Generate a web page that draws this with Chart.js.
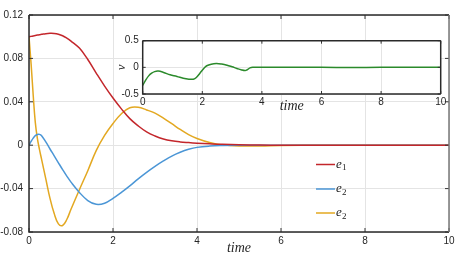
<!DOCTYPE html>
<html>
<head>
<meta charset="utf-8">
<script src="https://cdn.jsdelivr.net/npm/chart.js@4"></script>
<style>
  html, body { margin: 0; padding: 0; background: #fff; }
  #wrap { position: relative; width: 462px; height: 259px; }
  #main { position: absolute; left: 0; top: 0; }
  #inset { position: absolute; left: 100px; top: 30px; }
</style>
</head>
<body>
<div id="wrap">
  <canvas id="main" width="462" height="259"></canvas>
  <canvas id="inset" width="350" height="85"></canvas>
</div>
<script>
// main plot data
const time = [0, 0.05, 0.1, 0.15, 0.2, 0.25, 0.3, 0.4, 0.5, 0.6, 0.7, 0.8, 0.9, 1.0, 1.2, 1.4, 1.6, 1.8, 2.0, 2.2, 2.4, 2.6, 2.8, 3.0, 3.2, 3.4, 3.6, 3.8, 4.0, 4.3, 4.6, 5.0, 5.5, 6, 7, 8, 10];
const e1 = [0.0999, 0.1003, 0.1007, 0.1011, 0.1015, 0.1019, 0.1022, 0.1028, 0.1031, 0.103, 0.1023, 0.1009, 0.0987, 0.096, 0.0895, 0.079, 0.0665, 0.0545, 0.0435, 0.0335, 0.0245, 0.0178, 0.0123, 0.0085, 0.0057, 0.004, 0.003, 0.0024, 0.0019, 0.0013, 0.0008, 0.0004, 0.0001, 0, 0, 0, 0];
const e2 = [0, 0.0035, 0.0065, 0.0088, 0.0099, 0.01, 0.0088, 0.003, -0.0035, -0.0098, -0.0162, -0.0225, -0.0285, -0.034, -0.0435, -0.051, -0.0545, -0.0535, -0.049, -0.0435, -0.0375, -0.031, -0.025, -0.0195, -0.0145, -0.01, -0.0065, -0.0038, -0.002, -0.0008, -0.0003, 0, 0, 0, 0, 0, 0];
const e2b = [0.1, 0.075, 0.046, 0.021, 0.006, -0.004, -0.013, -0.031, -0.049, -0.063, -0.0725, -0.074, -0.0685, -0.059, -0.041, -0.0235, -0.005, 0.009, 0.02, 0.029, 0.0345, 0.035, 0.0325, 0.0295, 0.025, 0.0198, 0.0145, 0.0098, 0.0062, 0.0025, 0.0003, -0.0007, -0.0007, -0.0003, 0, 0, 0];

// inset data
const vTime = [0, 0.1, 0.2, 0.3, 0.4, 0.52, 0.7, 0.92, 1.15, 1.36, 1.55, 1.7, 1.8, 1.92, 2.05, 2.15, 2.3, 2.47, 2.65, 2.83, 3.0, 3.16, 3.3, 3.44, 3.52, 3.6, 3.7, 4, 5, 6, 7, 8, 10];
const v = [-0.34, -0.24, -0.16, -0.11, -0.08, -0.07, -0.095, -0.14, -0.17, -0.205, -0.222, -0.222, -0.19, -0.11, -0.02, 0.03, 0.06, 0.072, 0.062, 0.04, 0.01, -0.02, -0.045, -0.06, -0.04, -0.01, 0, 0.004, 0.002, 0, -0.002, 0, 0];

const xTicks = [0, 2, 4, 6, 8, 10];
const yTicks = [-0.08, -0.04, 0, 0.04, 0.08, 0.12];
const yTickLabels = ['-0.08', '-0.04', '0', '0.04', '0.08', '0.12'];
const vTicks = [-0.5, 0, 0.5];
const vTickLabels = ['-0.5', '0', '0.5'];
const legendSubs = ['1', '2', '2'];

const red = '#c3262b';
const blue = '#4b96d6';
const yellow = '#e3a821';
const green = '#2b8a2b';

const tickFont = { family: 'Liberation Sans, Arial, sans-serif', size: 10 };
const serifItalic = size => ({ family: 'Liberation Serif, Times New Roman, serif', style: 'italic', size: size });

function pts(xs, ys) {
  return xs.map((x, i) => ({ x: x, y: ys[i] }));
}

// white plot background, box frame, inward tick marks
const framePlugin = {
  id: 'frame',
  beforeDraw(chart, args, opts) {
    if (!opts.fill) return;
    const a = chart.chartArea;
    const ctx = chart.ctx;
    ctx.save();
    ctx.fillStyle = '#fff';
    ctx.fillRect(a.left, a.top, a.right - a.left, a.bottom - a.top);
    ctx.restore();
  },
  afterDraw(chart, args, opts) {
    const a = chart.chartArea;
    const ctx = chart.ctx;
    const xs = chart.scales.x, ys = chart.scales.y;
    ctx.save();
    ctx.strokeStyle = '#333';
    ctx.lineWidth = 1;
    const tl = opts.tick || 4;
    ctx.beginPath();
    xs.ticks.forEach(t => {
      const px = xs.getPixelForValue(t.value);
      ctx.moveTo(px, a.bottom); ctx.lineTo(px, a.bottom - tl);
      ctx.moveTo(px, a.top); ctx.lineTo(px, a.top + tl);
    });
    ys.ticks.forEach(t => {
      const py = ys.getPixelForValue(t.value);
      ctx.moveTo(a.left, py); ctx.lineTo(a.left + tl, py);
      ctx.moveTo(a.right, py); ctx.lineTo(a.right - tl, py);
    });
    ctx.stroke();
    ctx.lineWidth = 1.5;
    ctx.strokeStyle = '#2a2a2a';
    ctx.beginPath();
    ctx.moveTo(a.left, a.top); ctx.lineTo(a.left, a.bottom); ctx.lineTo(a.right, a.bottom);
    ctx.moveTo(a.left, a.top); ctx.lineTo(a.right, a.top);
    ctx.stroke();
    ctx.strokeStyle = opts.rightColor || '#2a2a2a';
    ctx.beginPath();
    ctx.moveTo(a.right, a.top); ctx.lineTo(a.right, a.bottom);
    ctx.stroke();
    ctx.restore();
  }
};

// in-plot legend: short line + italic e with subscript
const keyLegend = {
  id: 'keyLegend',
  afterDraw(chart) {
    const ctx = chart.ctx;
    const a = chart.chartArea;
    const x0 = a.right - 133;
    const rows = [164.5, 189, 213];
    ctx.save();
    chart.data.datasets.forEach((ds, i) => {
      const y = rows[i];
      ctx.strokeStyle = ds.borderColor;
      ctx.lineWidth = 1.5;
      ctx.beginPath();
      ctx.moveTo(x0, y); ctx.lineTo(x0 + 19, y);
      ctx.stroke();
      ctx.fillStyle = '#1a1a1a';
      ctx.textBaseline = 'alphabetic';
      ctx.font = 'italic 13px "Liberation Serif", serif';
      ctx.fillText('e', x0 + 20, y + 3);
      ctx.font = '9px "Liberation Serif", serif';
      ctx.fillText(legendSubs[i], x0 + 26, y + 5.5);
    });
    ctx.restore();
  }
};

const gridColor = '#e4e4e4';

new Chart(document.getElementById('main'), {
  type: 'line',
  data: {
    datasets: [
      { label: 'e1', data: pts(time, e1), borderColor: red },
      { label: 'e2', data: pts(time, e2), borderColor: blue },
      { label: 'e2', data: pts(time, e2b), borderColor: yellow }
    ]
  },
  options: {
    responsive: false,
    animation: false,
    layout: { padding: { top: 15, right: 13, left: 0, bottom: 0 } },
    elements: {
      point: { radius: 0 },
      line: { borderWidth: 1.5, tension: 0.4, fill: false }
    },
    plugins: {
      legend: { display: false },
      tooltip: { enabled: false },
      frame: { fill: false, tick: 4, rightColor: '#777' }
    },
    scales: {
      x: {
        type: 'linear', min: 0, max: 10,
        afterBuildTicks(s) { s.ticks = xTicks.map(t => ({ value: t })); },
        afterFit(s) { s.height = 27; },
        ticks: { font: tickFont, color: '#262626', padding: 3, maxRotation: 0, autoSkip: false },
        grid: { color: gridColor, drawTicks: false },
        border: { display: false },
        title: { display: true, text: 'time', font: serifItalic(14), color: '#262626', padding: { top: 0, bottom: 2 } }
      },
      y: {
        type: 'linear', min: -0.08, max: 0.12,
        afterBuildTicks(s) { s.ticks = yTicks.map(t => ({ value: t })); },
        afterFit(s) { s.width = 29; },
        ticks: {
          font: tickFont, color: '#262626', padding: 6, autoSkip: false,
          callback: val => yTickLabels[yTicks.indexOf(val)]
        },
        grid: { color: gridColor, drawTicks: false },
        border: { display: false }
      }
    }
  },
  plugins: [framePlugin, keyLegend]
});

new Chart(document.getElementById('inset'), {
  type: 'line',
  data: {
    datasets: [
      { label: 'v', data: pts(vTime, v), borderColor: green }
    ]
  },
  options: {
    responsive: false,
    animation: false,
    layout: { padding: { top: 10.7, right: 9.3, left: 0, bottom: 0 } },
    elements: {
      point: { radius: 0 },
      line: { borderWidth: 1.5, tension: 0.4, fill: false }
    },
    plugins: {
      legend: { display: false },
      tooltip: { enabled: false },
      frame: { fill: true, tick: 3 }
    },
    scales: {
      x: {
        type: 'linear', min: 0, max: 10,
        afterBuildTicks(s) { s.ticks = xTicks.map(t => ({ value: t })); },
        afterFit(s) { s.height = 21; },
        ticks: { font: tickFont, color: '#262626', padding: 2, maxRotation: 0, autoSkip: false },
        grid: { color: gridColor, drawTicks: false },
        border: { display: false },
        title: { display: true, text: 'time', font: serifItalic(14), color: '#262626', padding: { top: 0, bottom: 0 } }
      },
      y: {
        type: 'linear', min: -0.5, max: 0.5,
        afterBuildTicks(s) { s.ticks = vTicks.map(t => ({ value: t })); },
        afterFit(s) { s.width = 42.7; },
        ticks: {
          font: tickFont, color: '#262626', padding: 4, autoSkip: false,
          callback: val => vTickLabels[vTicks.indexOf(val)]
        },
        grid: { color: gridColor, drawTicks: false },
        border: { display: false },
        title: { display: true, text: 'v', font: serifItalic(13), color: '#262626', padding: { top: 14, bottom: 0 } }
      }
    }
  },
  plugins: [framePlugin]
});
</script>
</body>
</html>
